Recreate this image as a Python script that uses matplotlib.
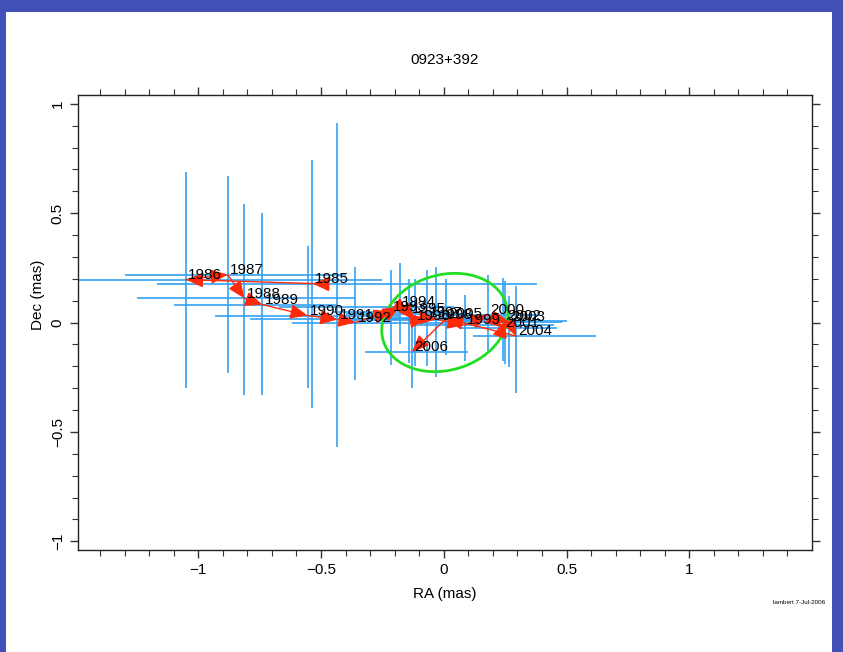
import numpy as np
import matplotlib
matplotlib.use("Agg")
import matplotlib.pyplot as plt
from matplotlib.patches import Ellipse, Rectangle

plt.rcParams['font.family'] = ['Liberation Sans', 'DejaVu Sans']

# ---- data ----
years = list(range(1985, 2007))
ra = [-0.535, -1.05, -0.88, -0.812, -0.739, -0.555, -0.433, -0.36, -0.215, -0.18,
      -0.14, -0.118, -0.07, -0.03, 0.085, 0.18, 0.24, 0.25, 0.265, 0.295, 0.01, -0.13]
dec = [0.178, 0.196, 0.219, 0.11, 0.082, 0.032, 0.014, 0.0, 0.05, 0.072,
       0.04, 0.01, 0.02, 0.015, -0.012, 0.035, -0.025, 0.008, 0.004, -0.062, 0.018, -0.135]
dec_lo = [-0.393, -0.30, -0.23, -0.33, -0.33, -0.30, -0.57, -0.265, -0.196, -0.096,
          -0.187, -0.20, -0.20, -0.247, -0.174, -0.128, -0.174, -0.19, -0.205, -0.32, -0.15, -0.30]
dec_hi = [0.744, 0.69, 0.67, 0.54, 0.50, 0.35, 0.91, 0.256, 0.242, 0.274,
          0.20, 0.20, 0.24, 0.256, 0.128, 0.215, 0.205, 0.19, 0.123, 0.169, 0.20, 0.10]
ra_lo = [-1.17, -1.90, -1.30, -1.25, -1.10, -0.93, -0.79, -0.62, -0.45, -0.67,
         -0.40, -0.38, -0.30, -0.25, -0.12, 0.0, 0.07, 0.0, 0.05, 0.12, -0.20, -0.32]
ra_hi = [0.38, -0.25, -0.40, -0.36, -0.43, -0.18, -0.06, 0.07, 0.02, 0.04,
         0.12, 0.15, 0.20, 0.25, 0.45, 0.39, 0.46, 0.50, 0.48, 0.62, 0.25, 0.10]

ell_center = (0.004, 0.0)
ell_width = 0.53
ell_height = 0.43
ell_angle = 25

title = "0923+392"
xlabel = "RA (mas)"
ylabel = "Dec (mas)"
stamp = "lambert 7-Jul-2006"

W, H = 843, 652
fig = plt.figure(figsize=(W / 100, H / 100), dpi=100)
fig.patch.set_facecolor('#4250b8')
# white slide area
fig.patches.append(Rectangle((6 / W, 0), (832 - 6) / W, (H - 12) / H,
                             transform=fig.transFigure, facecolor='white',
                             edgecolor='none', zorder=-10))

ax = fig.add_axes([78 / W, 1 - 550 / H, (812 - 78) / W, (550 - 95) / H])
ax.set_xlim(-1.49, 1.50)
ax.set_ylim(-1.04, 1.04)

blue = '#33a2f5'
red = '#ff2a0a'

ax.vlines(ra, dec_lo, dec_hi, color=blue, lw=1.2, zorder=2)
ax.hlines(dec, ra_lo, ra_hi, color=blue, lw=1.2, zorder=2)

ax.add_patch(Ellipse(ell_center, ell_width, ell_height, angle=ell_angle,
                     fill=False, edgecolor='#22dd22', lw=2, zorder=3))

aprops = dict(arrowstyle='-|>,head_length=0.7,head_width=0.3', color=red,
              lw=1.0, shrinkA=0, shrinkB=0, mutation_scale=15)
# first arrowhead marks the starting direction
p0 = np.array([ra[0], dec[0]]); p1 = np.array([ra[1], dec[1]])
d = (p1 - p0) / np.linalg.norm(p1 - p0)
ax.annotate('', xy=tuple(p0), xytext=tuple(p0 - 0.05 * d), arrowprops=aprops, zorder=4)
for i in range(1, len(years)):
    ax.annotate('', xy=(ra[i], dec[i]), xytext=(ra[i - 1], dec[i - 1]),
                arrowprops=aprops, zorder=4)
for yv, x, y in zip(years, ra, dec):
    ax.annotate(str(yv), xy=(x, y), xytext=(1.5, 0.5), textcoords='offset points',
                ha='left', va='baseline', fontsize=11, color='black', zorder=5)

ax.set_xticks([-1, -0.5, 0, 0.5, 1])
ax.set_xticklabels(['\u22121', '\u22120.5', '0', '0.5', '1'])
ax.set_yticks([-1, -0.5, 0, 0.5, 1])
ax.set_yticklabels(['\u22121', '\u22120.5', '0', '0.5', '1'], rotation=90, va='center')
ax.set_xticks(np.arange(-1.4, 1.45, 0.1), minor=True)
ax.set_yticks(np.arange(-1.0, 1.01, 0.1), minor=True)
ax.tick_params(which='both', direction='out', top=True, right=True, labelsize=11, color='#333333')
ax.tick_params(which='major', length=6, width=1)
ax.tick_params(which='minor', length=4, width=0.8)
for s in ax.spines.values():
    s.set_linewidth(1.0)
    s.set_color('#222222')

ax.set_xlabel(xlabel, fontsize=11, labelpad=7)
ax.set_ylabel(ylabel, fontsize=11)
ax.yaxis.set_label_coords(-0.045, 0.56)

fig.text(445 / W, 1 - 60 / H, title, ha='center', va='center', fontsize=11)
fig.text(773 / W, 1 - 603 / H, stamp, ha='left', va='center', fontsize=4.5)

fig.savefig('out.png', dpi=100, facecolor=fig.get_facecolor())
